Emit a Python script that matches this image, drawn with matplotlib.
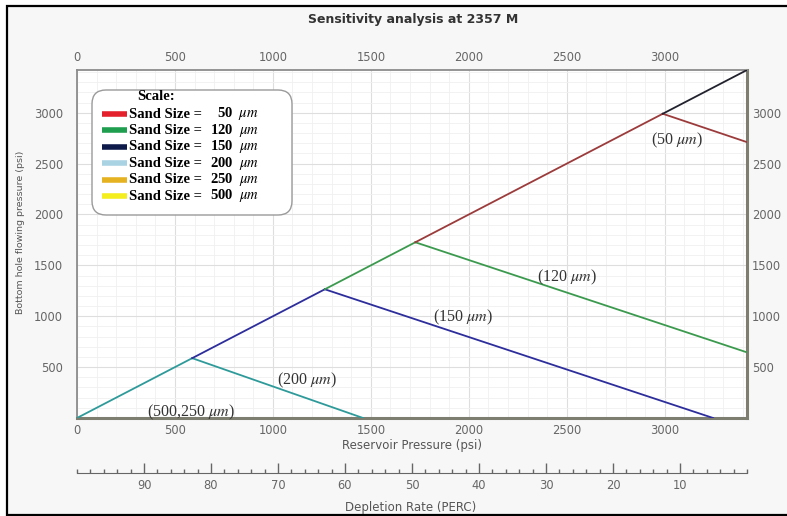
import matplotlib.pyplot as plt
from matplotlib.lines import Line2D
from matplotlib.patches import FancyBboxPatch, Rectangle
from matplotlib.ticker import MultipleLocator
from matplotlib.transforms import IdentityTransform

plt.rcParams["mathtext.fontset"] = "stix"

W, H = 787, 516

# Sand sizes shown in the scale box (micrometres)
sand_sizes = [50, 120, 150, 200, 250, 500]
legend_colors = ["#e3202b", "#1f9e4f", "#0e1a4a", "#a9d3e3", "#e5b321", "#f4ee1f"]

# Critical BHP curves: follow BHP = Pr up to the critical pressure, then decline
line_sizes = [50, 120, 150, 200]
line_colors = ["#9c3b3b", "#3b9a4e", "#2d2d9c", "#2f9a9a"]
crit_pressure = [2990, 1727, 1265, 588]
end_pressure = [3420, 3420, 3247, 1460]
end_bhp = [2711, 645, 0, 0]
initial_pressure = 3420

x_ticks = [0, 500, 1000, 1500, 2000, 2500, 3000]
y_ticks = [500, 1000, 1500, 2000, 2500, 3000]
depletion_ticks = [90, 80, 70, 60, 50, 40, 30, 20, 10]

curve_labels = [r"(50 $\mu m$)", r"(120 $\mu m$)", r"(150 $\mu m$)",
                r"(200 $\mu m$)", r"(500,250 $\mu m$)"]
curve_label_pos = [(3063, 2731), (2501, 1385), (1970, 992), (1174, 373), (582, 59)]


def fig_xy(px, py):
    """Pixel position (from top-left) to figure fraction."""
    return px / W, 1 - py / H


fig = plt.figure(figsize=(W / 100, H / 100), dpi=100, facecolor="white")

# outer panel with black frame
fig.add_artist(Rectangle((7, H - 515), 800, 509, transform=IdentityTransform(),
                         facecolor="#f7f7f7", edgecolor="black", lw=1.6, zorder=0))

left, right, top, bottom = 77, 747, 70, 418
ax = fig.add_axes([left / W, 1 - bottom / H, (right - left) / W, (bottom - top) / H])
ax.set_facecolor("white")

# diagonal pieces and the declining branch for every sand size
order = sorted(range(len(line_sizes)), key=lambda i: crit_pressure[i])
lower = 0
for i in order:
    c = crit_pressure[i]
    ax.plot([lower, c], [lower, c], color=line_colors[i], lw=1.3, zorder=3)
    ax.plot([c, end_pressure[i]], [c, end_bhp[i]], color=line_colors[i], lw=1.3, zorder=3)
    lower = c
ax.plot([lower, initial_pressure], [lower, initial_pressure], color="#22222e", lw=1.3, zorder=3)

for txt, (x, y) in zip(curve_labels, curve_label_pos):
    ax.text(x, y, txt, ha="center", va="center", fontsize=11.5,
            family="Liberation Serif", color="#333333", zorder=4)

ax.set_xlim(0, initial_pressure)
ax.set_ylim(0, initial_pressure)
ax.set_xticks(x_ticks)
ax.set_yticks(y_ticks)
ax.xaxis.set_minor_locator(MultipleLocator(100))
ax.yaxis.set_minor_locator(MultipleLocator(100))
ax.grid(which="major", color="#dedede", lw=0.8)
ax.grid(which="minor", color="#f0f0f0", lw=0.6)
ax.set_axisbelow(True)
ax.tick_params(which="both", length=0, colors="#666666", labelsize=8.3)
ax.tick_params(axis="x", labeltop=True, pad=4.5)
ax.tick_params(axis="y", pad=10)

for side in ["top", "left"]:
    ax.spines[side].set_color("#8c8c8c")
    ax.spines[side].set_linewidth(1.3)
for side in ["bottom", "right"]:
    ax.spines[side].set_color("#7d7d70")
    ax.spines[side].set_linewidth(2.2)

ax_r = ax.twinx()
ax_r.set_ylim(ax.get_ylim())
ax_r.set_yticks(y_ticks)
ax_r.tick_params(length=0, colors="#666666", labelsize=8.3, pad=3.5)
for s in ax_r.spines.values():
    s.set_visible(False)

ax.set_xlabel("Reservoir Pressure (psi)", fontsize=8.5, color="#555555", va="center")
ax.xaxis.set_label_coords(0.5, -(445 - bottom) / (bottom - top))
ax.set_ylabel("Bottom hole flowing pressure (psi)", fontsize=6.8, color="#555555", va="center")
ax.yaxis.set_label_coords((21 - left) / (right - left), (bottom - 232) / (bottom - top))

fig.text(*fig_xy(413, 20), "Sensitivity analysis at 2357 M", ha="center", va="center",
         fontsize=9, fontweight="bold", color="#333333")

# scale box
fig.add_artist(FancyBboxPatch((92, H - 215), 200, 125, transform=IdentityTransform(),
                              boxstyle="round,pad=0,rounding_size=14",
                              facecolor="white", edgecolor="#9a9a9a", lw=1.0, zorder=5))
fig.text(*fig_xy(137, 97), "Scale:", ha="left", va="center", fontsize=10.5,
         family="Liberation Serif", fontweight="bold", zorder=6)
for k, (size, col) in enumerate(zip(sand_sizes, legend_colors)):
    py = 114 + 16.4 * k
    x0, y0 = fig_xy(102, py)
    x1, _ = fig_xy(127, py)
    fig.add_artist(Line2D([x0, x1], [y0, y0], color=col, lw=4, solid_capstyle="butt", zorder=6))
    fig.text(*fig_xy(129, py), "Sand Size =", ha="left", va="center", fontsize=10.5,
             family="Liberation Serif", fontweight="bold", zorder=6)
    fig.text(*fig_xy(259, py), f"{size}  $\\mu m$", ha="right", va="center", fontsize=10.5,
             family="Liberation Serif", fontweight="bold", zorder=6)

# depletion rate scale under the chart
ax_d = fig.add_axes([left / W, 1 - 473 / H, (right - left) / W, 8 / H])
ax_d.set_facecolor("none")
ax_d.set_xlim(100, 0)
ax_d.set_yticks([])
for side in ["top", "left", "right"]:
    ax_d.spines[side].set_visible(False)
ax_d.spines["bottom"].set_color("#666666")
ax_d.set_xticks(depletion_ticks)
ax_d.xaxis.set_minor_locator(MultipleLocator(2))
ax_d.tick_params(axis="x", which="major", direction="in", length=7, width=1,
                 colors="#666666", labelsize=8.3, pad=4)
ax_d.tick_params(axis="x", which="minor", direction="in", length=3, width=1, colors="#666666")
fig.text(*fig_xy(411, 508), "Depletion Rate (PERC)", ha="center", va="center",
         fontsize=8.5, color="#555555")

fig.savefig("out.png", dpi=100)
